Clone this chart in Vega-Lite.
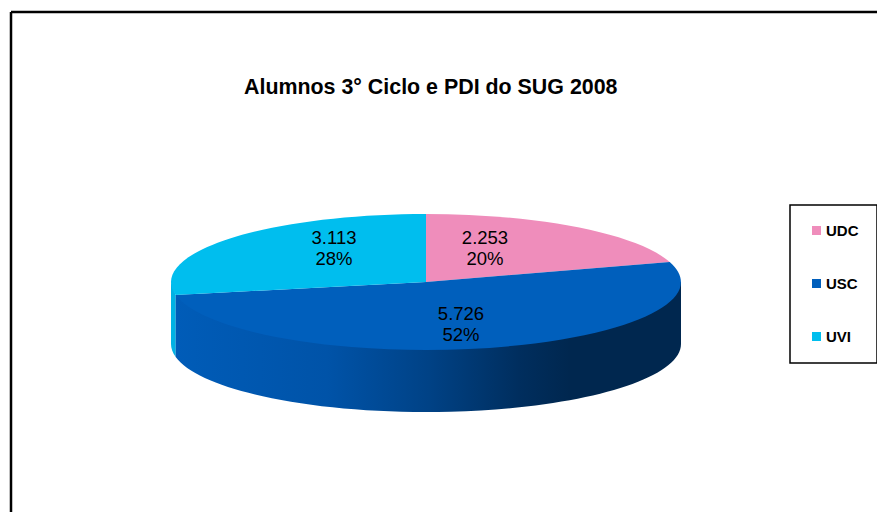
{
"$schema":"https://vega.github.io/schema/vega-lite/v6.json",
"width":866,"height":500,
"autosize":"none",
"padding":{"left":11,"top":12,"right":0,"bottom":0},
"background":"white",
"config":{"view":{"stroke":null},"font":"Liberation Sans"},
"title":{"text":"Alumnos 3° Ciclo e PDI do SUG 2008","anchor":"start","frame":"group","dx":233,"dy":109,"baseline":"alphabetic","fontSize":21.4,"fontWeight":"bold","color":"#000000","font":"Liberation Sans"},
"data":{"values":[
{"uni":"UDC","alumnos":2253,"pct":20,"label":"2.253\n20%"},
{"uni":"USC","alumnos":5726,"pct":52,"label":"5.726\n52%"},
{"uni":"UVI","alumnos":3113,"pct":28,"label":"3.113\n28%"}
]},
"encoding":{
"x":{"datum":0,"type":"quantitative","scale":{"domain":[-415,451],"nice":false,"zero":false},"axis":null},
"y":{"datum":0,"type":"quantitative","scale":{"domain":[-230,270],"nice":false,"zero":false},"axis":null}
},
"layer":[
{"transform":[{"filter":"datum.uni==='UVI'"}],
 "mark":{"type":"point","filled":true,"opacity":1,"size":4,"strokeWidth":0,"fill":"#00B2E4","shape":"M-255 0 L-255 62 A255 68 0 0 0 -250.31 75 L-250.31 13 Z"}},
{"transform":[{"filter":"datum.uni==='USC'"}],
 "mark":{"type":"point","filled":true,"opacity":1,"size":4,"strokeWidth":0,
  "fill":{"gradient":"linear","x1":0,"y1":0,"x2":1,"y2":0,"stops":[
   {"offset":0,"color":"#005CB8"},{"offset":0.3,"color":"#0053A8"},{"offset":0.5,"color":"#004286"},{"offset":0.68,"color":"#002E5E"},{"offset":0.78,"color":"#00274F"},{"offset":1,"color":"#00274F"}]},
  "shape":"M255 0 L255 62 A255 68 0 0 1 -250.31 75 L-250.31 13 Z"}},
{"transform":[{"filter":"datum.uni==='UDC'"}],
 "mark":{"type":"point","filled":true,"opacity":1,"size":4,"strokeWidth":0,"shape":"M0 0 L0 -68 A255 68 0 0 1 243.73 -20 Z"},
 "encoding":{"color":{"field":"uni","type":"nominal","scale":{"domain":["UDC","USC","UVI"],"range":["#EF8DBB","#005FBC","#00BEEE"]},
   "legend":{"title":null,"orient":"none","legendX":779,"legendY":193,"padding":18,"rowPadding":37,"symbolType":"square","symbolSize":81,"symbolStrokeWidth":0,"symbolOpacity":1,"symbolOffset":1,"labelFontSize":15,"labelFontWeight":"bold","labelColor":"#000000","labelOffset":2,"labelFont":"Liberation Sans","labelExpr":"datum.label+'      '","strokeColor":"#000000","fillColor":"#ffffff","labelLimit":200,
    "encode":{"legend":{"update":{"strokeWidth":{"value":1.5}}}}}}}},
{"transform":[{"filter":"datum.uni==='USC'"}],
 "mark":{"type":"point","filled":true,"opacity":1,"size":4,"strokeWidth":0,"shape":"M0 0 L243.73 -20 A255 68 0 1 1 -250.31 13 Z"},
 "encoding":{"color":{"field":"uni","type":"nominal"}}},
{"transform":[{"filter":"datum.uni==='UVI'"}],
 "mark":{"type":"point","filled":true,"opacity":1,"size":4,"strokeWidth":0,"shape":"M0 0 L-250.31 13 A255 68 0 0 1 0 -68 Z"},
 "encoding":{"color":{"field":"uni","type":"nominal"}}},
{"transform":[{"filter":"datum.uni==='UDC'"}],"mark":{"type":"text","fontSize":18.5,"lineBreak":"\n","lineHeight":21,"align":"center","baseline":"middle","color":"#000000"},
 "encoding":{"x":{"datum":59},"y":{"datum":44.5},"text":{"field":"label"}}},
{"transform":[{"filter":"datum.uni==='USC'"}],"mark":{"type":"text","fontSize":18.5,"lineBreak":"\n","lineHeight":21,"align":"center","baseline":"middle","color":"#000000"},
 "encoding":{"x":{"datum":35},"y":{"datum":-32},"text":{"field":"label"}}},
{"transform":[{"filter":"datum.uni==='UVI'"}],"mark":{"type":"text","fontSize":18.5,"lineBreak":"\n","lineHeight":21,"align":"center","baseline":"middle","color":"#000000"},
 "encoding":{"x":{"datum":-92},"y":{"datum":44.5},"text":{"field":"label"}}},
{"data":{"values":[{"frame":"left"}]},"mark":{"type":"rule","color":"#000000","strokeWidth":2.5},"encoding":{"x":{"datum":-415},"y":null}},
{"data":{"values":[{"frame":"top"}]},"mark":{"type":"rule","color":"#000000","strokeWidth":2.5},"encoding":{"y":{"datum":270},"x":null}}
]
}
